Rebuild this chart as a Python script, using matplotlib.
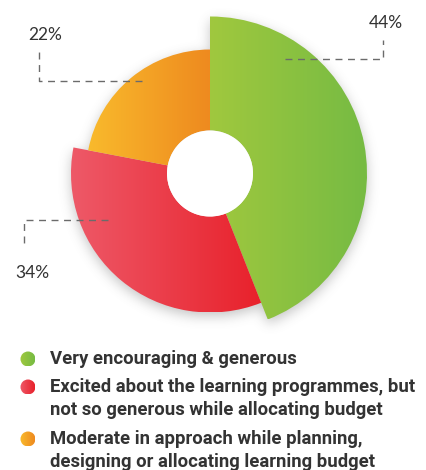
import numpy as np
import matplotlib
matplotlib.use("Agg")
import matplotlib.pyplot as plt
from matplotlib.patches import Wedge, Circle
from matplotlib.colors import LinearSegmentedColormap

# Survey shares (percent), clockwise from 12 o'clock
categories = [
    "Very encouraging & generous",
    "Excited about the learning programmes, but\nnot so generous while allocating budget",
    "Moderate in approach while planning,\ndesigning or allocating learning budget",
]
shares = [44, 34, 22]
pct_labels = ["44%", "34%", "22%"]

W, H = 427, 470
fig = plt.figure(figsize=(W / 100, H / 100), dpi=100)
ax = fig.add_axes([0, 0, 1, 1])
ax.set_xlim(0, W)
ax.set_ylim(0, H)
ax.set_aspect("equal")
ax.axis("off")

cx, cy = 210, H - 173.5
hole_r = 43
outer_r = [157, 139, 124]
grad_colors = [("#a0c83e", "#76bb43"), ("#ee5968", "#e8212b"), ("#f9ba2c", "#ee8a1f")]

# angles (matplotlib degrees) for each slice, clockwise from the top
bounds = [90.0]
for s in shares:
    bounds.append(bounds[-1] - s / 100 * 360)

# soft drop shadow under the ring
yy, xx = np.mgrid[0:H, 0:W]
px = xx + 0.5
py = H - (yy + 0.5)
dx, dy = px - cx, py - (cy - 4)
rr = np.hypot(dx, dy)
ang = (90 - np.degrees(np.arctan2(dy, dx))) % 360  # clockwise from top
mask = np.zeros((H, W))
start = 0.0
for s, r in zip(shares, outer_r):
    end = start + s / 100 * 360
    sel = (ang >= start) & (ang < end) & (rr <= r) & (rr >= hole_r)
    mask[sel] = 1.0
    start = end
sig = 6
k = np.arange(-3 * sig, 3 * sig + 1)
g = np.exp(-k ** 2 / (2 * sig ** 2))
g /= g.sum()
blur = np.apply_along_axis(lambda v: np.convolve(v, g, mode="same"), 0, mask)
blur = np.apply_along_axis(lambda v: np.convolve(v, g, mode="same"), 1, blur)
shadow = np.zeros((H, W, 4))
shadow[..., :3] = 0.35
shadow[..., 3] = blur * 0.35
ax.imshow(shadow, extent=[0, W, 0, H], origin="upper", zorder=1, interpolation="bilinear")

# slices with horizontal colour gradients
for i, (s, r) in enumerate(zip(shares, outer_r)):
    t1, t2 = bounds[i + 1], bounds[i]
    w = Wedge((cx, cy), r, t1, t2, width=r - hole_r, facecolor="none", edgecolor="none")
    ax.add_patch(w)
    cmap = LinearSegmentedColormap.from_list(f"g{i}", grad_colors[i])
    bb = w.get_path().get_extents(w.get_patch_transform())
    grad = np.linspace(0, 1, 256).reshape(1, -1)
    im = ax.imshow(grad, cmap=cmap, extent=[bb.x0, bb.x1, bb.y0, bb.y1],
                   origin="lower", aspect="auto", zorder=2, interpolation="bilinear")
    im.set_clip_path(w)

# inner hole
ax.add_patch(Circle((cx, cy), hole_r, facecolor="white", edgecolor="none", zorder=3))

# dashed leader lines and percentage labels
line_kw = dict(color="#6b6b6b", lw=1.0, ls=(0, (5, 4)), zorder=4)
ax.plot([285, 383, 383], [H - 59, H - 59, H - 40], **line_kw)
ax.plot([142, 39, 39], [H - 81, H - 81, H - 52], **line_kw)
ax.plot([108, 24, 24], [H - 220, H - 220, H - 248], **line_kw)

pct_kw = dict(fontsize=12.5, color="#333333", family="Lato", fontweight="normal",
              ha="center", va="center", zorder=5)
ax.text(386, H - 23, pct_labels[0], **pct_kw)
ax.text(32, H - 273, pct_labels[1], **pct_kw)
ax.text(45, H - 35, pct_labels[2], **pct_kw)

# legend: gradient dots with bold labels
legend_y = [359, 387, 439]
for i, (lab, ly) in enumerate(zip(categories, legend_y)):
    c = Circle((28, H - ly), 7.5, facecolor="none", edgecolor="none", zorder=5)
    ax.add_patch(c)
    cmap = LinearSegmentedColormap.from_list(f"l{i}", grad_colors[i])
    im = ax.imshow(np.linspace(0, 1, 64).reshape(1, -1), cmap=cmap,
                   extent=[20.5, 35.5, H - ly - 7.5, H - ly + 7.5], origin="lower",
                   aspect="auto", zorder=5)
    im.set_clip_path(c)
    for j, ln in enumerate(lab.split("\n")):
        ax.text(50, H - ly - j * 23, ln, fontsize=13.3, color="#333333", family="Roboto",
                fontweight="bold", ha="left", va="center", zorder=6)

fig.savefig("out.png", dpi=100)
